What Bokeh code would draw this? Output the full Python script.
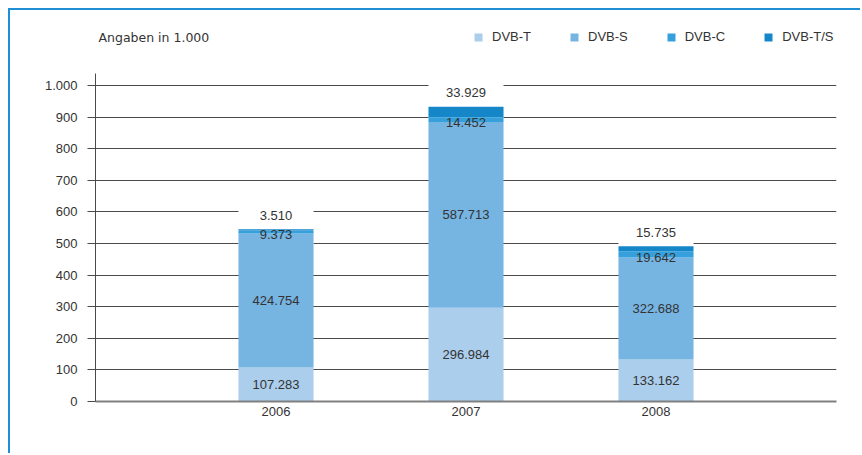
from bokeh.plotting import figure
from bokeh.models import ColumnDataSource, LabelSet, Label, Legend, FixedTicker, FactorRange, Range1d
from bokeh.core.properties import value
from bokeh.embed import file_html
from bokeh.resources import INLINE
import numpy as np

years = ["2006", "2007", "2008"]
series = ["DVB-T", "DVB-S", "DVB-C", "DVB-T/S"]
dvb_t = [107.283, 296.984, 133.162]
dvb_s = [424.754, 587.713, 322.688]
dvb_c = [9.373, 14.452, 19.642]
dvb_ts = [3.510, 33.929, 15.735]
colors = ["#abceec", "#76b4e2", "#35a0dc", "#1587c8"]
y_ticks = [0, 100, 200, 300, 400, 500, 600, 700, 800, 900, 1000]
y_tick_labels = ["0", "100", "200", "300", "400", "500", "600", "700", "800", "900", "1.000"]
unit_note = "Angaben in 1.000"

FONT = "Liberation Sans"
TXT = "#333333"

t = np.array(dvb_t); s = np.array(dvb_s); c = np.array(dvb_c); ts = np.array(dvb_ts)
total = t + s + c + ts
fmt = lambda arr: [f"{v:.3f}" for v in arr]

src = ColumnDataSource(dict(
    year=years,
    **{"DVB-T": dvb_t, "DVB-S": dvb_s, "DVB-C": dvb_c, "DVB-T/S": dvb_ts},
    total=list(total),
    mid_t=list(t / 2), mid_s=list(t + s / 2), mid_c=list(t + s + c / 2),
    lab_t=fmt(t), lab_s=fmt(s), lab_c=fmt(c), lab_ts=fmt(ts),
))

p = figure(width=852, height=445, output_backend="svg", toolbar_location=None,
           x_range=FactorRange(*years, range_padding=0.3), y_range=Range1d(0, 1205.7),
           min_border_left=85, min_border_right=26, min_border_top=10, min_border_bottom=54)
p.styles = {"margin-left": "8px", "margin-top": "8px",
            "border-left": "2px solid #1e8fd5", "border-top": "2px solid #1e8fd5"}

p.outline_line_color = None
p.background_fill_color = "white"

# white boxes behind top labels
p.rect(x="year", y="total", width=0.395, height=52, height_units="screen", source=src,
       fill_color="white", line_color=None)

rs = p.vbar_stack(series, x="year", width=0.395, source=src, color=colors, line_color=None)

# grid & axes
p.xgrid.grid_line_color = None
p.ygrid.grid_line_color = "#4a4a4a"
p.ygrid.grid_line_width = 1
p.yaxis.ticker = FixedTicker(ticks=y_ticks)
p.yaxis.bounds = (0, 1038)
p.yaxis.major_label_overrides = {k: v for k, v in zip(y_ticks, y_tick_labels)}
p.yaxis.minor_tick_line_color = None
p.yaxis.major_tick_out = 8
p.yaxis.major_tick_in = 0
p.yaxis.major_tick_line_color = "#4a4a4a"
p.yaxis.axis_line_color = "#4a4a4a"
p.yaxis.major_label_standoff = 10
p.yaxis.major_label_text_font = FONT
p.yaxis.major_label_text_font_size = "13px"
p.yaxis.major_label_text_color = TXT

p.xaxis.axis_line_color = "#808080"
p.xaxis.axis_line_width = 2
p.xaxis.major_tick_line_color = None
p.xaxis.major_tick_out = 0
p.xaxis.major_tick_in = 0
p.xaxis.minor_tick_line_color = None
p.xaxis.major_label_standoff = 5
p.xaxis.major_label_text_font = FONT
p.xaxis.major_label_text_font_size = "13px"
p.xaxis.major_label_text_color = TXT

common = dict(x="year", source=src, text_align="center", text_baseline="middle",
              text_font_size=value("13px"), text_color=value(TXT), text_font=value(FONT))
p.add_layout(LabelSet(y="mid_t", text="lab_t", **common))
p.add_layout(LabelSet(y="mid_s", text="lab_s", **common))
p.add_layout(LabelSet(y="mid_c", text="lab_c", y_offset=-3, **common))
p.add_layout(LabelSet(y="total", text="lab_ts", y_offset=14, **common))

p.add_layout(Label(x=3, y=364, x_units="screen", y_units="screen", text=unit_note,
                   text_font="DejaVu Sans", text_font_size="12.5px", text_color=TXT,
                   text_baseline="middle", text_align="left"))

legend = Legend(items=[(n, [r]) for n, r in zip(series, rs)], orientation="horizontal",
                location=(378, 357), glyph_width=10, glyph_height=10, label_height=14,
                label_standoff=9, spacing=38, padding=0, margin=0,
                border_line_color=None, background_fill_alpha=0,
                label_text_font=FONT, label_text_font_size="13px", label_text_color=TXT)
p.add_layout(legend)

open("out.html", "w").write(file_html(p, INLINE))
